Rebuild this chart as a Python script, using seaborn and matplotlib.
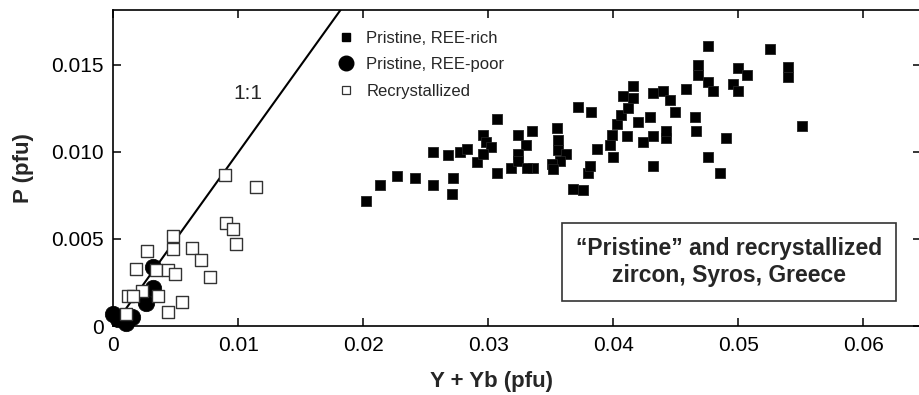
import matplotlib
matplotlib.use("Agg")
import matplotlib.pyplot as plt
from matplotlib.lines import Line2D
import seaborn as sns

# ---------------- data ----------------
rich_x = [0.0202, 0.0213, 0.0227, 0.0241, 0.0256, 0.0256, 0.0268, 0.0272, 0.0271, 0.0277,
          0.0283, 0.0291, 0.0296, 0.0298, 0.0302, 0.0296, 0.0307, 0.0307, 0.0318, 0.0324,
          0.0335, 0.0330, 0.0324, 0.0324, 0.0336, 0.0331, 0.0355, 0.0356, 0.0356, 0.0362,
          0.0357, 0.0351, 0.0352, 0.0368, 0.0376, 0.0380, 0.0381, 0.0372, 0.0382, 0.0387,
          0.0397, 0.0400, 0.0399, 0.0403, 0.0406, 0.0412, 0.0408, 0.0416, 0.0416, 0.0411,
          0.0420, 0.0424, 0.0429, 0.0432, 0.0432, 0.0432, 0.0440, 0.0445, 0.0449, 0.0442,
          0.0442, 0.0458, 0.0465, 0.0466, 0.0468, 0.0468, 0.0476, 0.0476, 0.0480, 0.0476,
          0.0485, 0.0490, 0.0500, 0.0507, 0.0496, 0.0500, 0.0525, 0.0540, 0.0540, 0.0551]
rich_y = [0.0072, 0.0081, 0.0086, 0.0085, 0.0081, 0.0100, 0.0098, 0.0085, 0.0076, 0.0100,
          0.0102, 0.0094, 0.0110, 0.0106, 0.0103, 0.0099, 0.0119, 0.0088, 0.0091, 0.0110,
          0.0112, 0.0104, 0.0099, 0.0095, 0.0091, 0.0091, 0.0114, 0.0107, 0.0101, 0.0099,
          0.0095, 0.0093, 0.0090, 0.0079, 0.0078, 0.0088, 0.0092, 0.0126, 0.0123, 0.0102,
          0.0104, 0.0097, 0.0110, 0.0116, 0.0121, 0.0125, 0.0132, 0.0131, 0.0138, 0.0109,
          0.0117, 0.0106, 0.0120, 0.0109, 0.0092, 0.0134, 0.0135, 0.0130, 0.0123, 0.0108,
          0.0112, 0.0136, 0.0120, 0.0112, 0.0144, 0.0150, 0.0161, 0.0140, 0.0135, 0.0097,
          0.0088, 0.0108, 0.0148, 0.0144, 0.0139, 0.0135, 0.0159, 0.0149, 0.0143, 0.0115]

poor_x = [0.0032, 0.0032, 0.0026, 0.0000, 0.0010, 0.0015, 0.0004]
poor_y = [0.0034, 0.0022, 0.0013, 0.0007, 0.0002, 0.0005, 0.0004]

recr_x = [0.0089, 0.0114, 0.0090, 0.0096, 0.0098, 0.0048, 0.0048, 0.0027, 0.0063, 0.0070,
          0.0077, 0.0018, 0.0034, 0.0044, 0.0049, 0.0023, 0.0012, 0.0016, 0.0036, 0.0055,
          0.0044, 0.0010]
recr_y = [0.0087, 0.0080, 0.0059, 0.0056, 0.0047, 0.0052, 0.0044, 0.0043, 0.0045, 0.0038,
          0.0028, 0.0033, 0.0032, 0.0032, 0.0030, 0.0020, 0.0017, 0.0017, 0.0017, 0.0014,
          0.0008, 0.0007]

one_to_one = [0.0, 0.02]

x_ticks = [0, 0.01, 0.02, 0.03, 0.04, 0.05, 0.06]
x_tick_labels = ["0", "0.01", "0.02", "0.03", "0.04", "0.05", "0.06"]
y_ticks = [0, 0.005, 0.010, 0.015]
y_tick_labels = ["0", "0.005", "0.010", "0.015"]

legend_labels = ["Pristine, REE-rich", "Pristine, REE-poor", "Recrystallized"]
box_text = "\u201cPristine\u201d and recrystallized\nzircon, Syros, Greece"

# ---------------- style ----------------
sns.set_style("ticks")
plt.rcParams['font.family'] = ['Liberation Sans', 'DejaVu Sans']

W, H = 920, 395
fig = plt.figure(figsize=(W / 100, H / 100), dpi=100)
ax_l, ax_r, ax_t, ax_b = 113.5, 921.0, 10.0, 326.0
ax = fig.add_axes([ax_l / W, (H - ax_b) / H, (ax_r - ax_l) / W, (ax_b - ax_t) / H])

ax.set_xlim(0, (ax_r - ax_l) / 12500.0)
ax.set_ylim(0, (ax_b - ax_t) / 17400.0)

# 1:1 line
sns.lineplot(x=one_to_one, y=one_to_one, color="black", linewidth=1.5, ax=ax, zorder=2)

sns.scatterplot(x=rich_x, y=rich_y, marker="s", s=60, color="black",
                edgecolor="#222222", linewidth=0.6, ax=ax, zorder=3, clip_on=False)
sns.scatterplot(x=poor_x, y=poor_y, marker="o", s=140, color="black",
                edgecolor="black", linewidth=0.5, ax=ax, zorder=3, clip_on=False)
sns.scatterplot(x=recr_x, y=recr_y, marker="s", s=66, color="white",
                edgecolor="#333333", linewidth=1.0, ax=ax, zorder=4, clip_on=False)

ax.text(0.01076, 0.01339, "1:1", fontsize=15, ha="center", va="center")

# ticks
ax.set_xticks(x_ticks)
ax.set_xticklabels(x_tick_labels)
ax.set_yticks(y_ticks)
ax.set_yticklabels(y_tick_labels)
ax.tick_params(direction="in", length=5.5, width=1.1, top=True, right=True,
               labelsize=15, pad=7, colors="black")
for sp in ax.spines.values():
    sp.set_linewidth(1.2)
    sp.set_color("black")

# axis labels
ax.set_xlabel("Y + Yb (pfu)", fontsize=16, fontweight="bold")
ax.xaxis.set_label_coords((492 - ax_l) / (ax_r - ax_l), (ax_b - 381) / (ax_b - ax_t))
ax.xaxis.label.set_verticalalignment("center")
ax.set_ylabel("P (pfu)", fontsize=16, fontweight="bold")
ax.yaxis.set_label_coords((23 - ax_l) / (ax_r - ax_l), 0.5)
ax.yaxis.label.set_verticalalignment("center")

# legend
handles = [
    Line2D([], [], linestyle="none", marker="s", markersize=6.3, markerfacecolor="black",
           markeredgecolor="black"),
    Line2D([], [], linestyle="none", marker="o", markersize=10.5, markerfacecolor="black",
           markeredgecolor="black"),
    Line2D([], [], linestyle="none", marker="s", markersize=5.8, markerfacecolor="white",
           markeredgecolor="#333333", markeredgewidth=0.9),
]
ax.legend(handles, legend_labels, loc="upper left",
          bbox_to_anchor=((338 - ax_l) / (ax_r - ax_l), (ax_b - 31) / (ax_b - ax_t)),
          frameon=False, fontsize=12, handlelength=1.0, handletextpad=0.7,
          labelspacing=0.68, borderpad=0, borderaxespad=0)

# annotation box
ax.text((729 - ax_l) / (ax_r - ax_l), (ax_b - 262) / (ax_b - ax_t), box_text,
        transform=ax.transAxes, fontsize=16.5, fontweight="bold", ha="center",
        va="center", linespacing=1.2, zorder=5,
        bbox=dict(boxstyle="square,pad=0.6", facecolor="white", edgecolor="#333333",
                  linewidth=1.2))

fig.savefig("out.png", dpi=100)
